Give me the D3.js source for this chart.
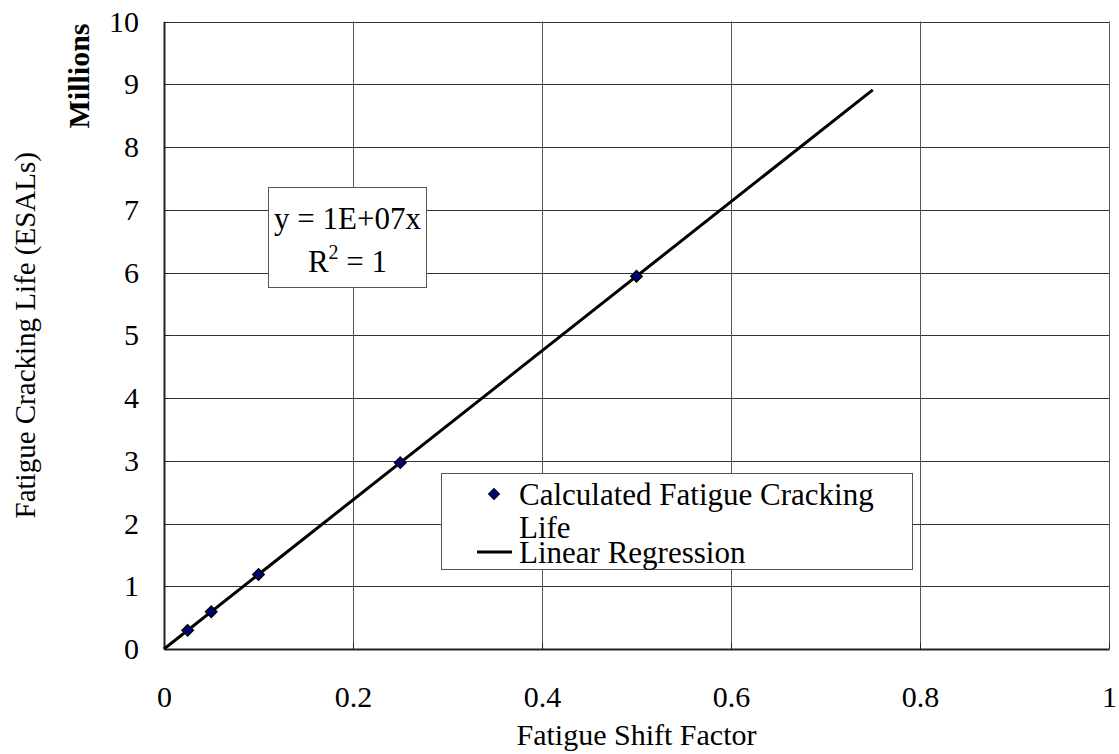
<!DOCTYPE html>
<html>
<head>
<meta charset="utf-8">
<script src="https://cdn.jsdelivr.net/npm/d3@7"></script>
<style>
  body { margin: 0; background: #fff; }
  svg text { font-family: "Liberation Serif", "DejaVu Serif", serif !important; fill: #000; }
</style>
</head>
<body>
<svg id="chart" width="1119" height="754"></svg>
<script>
// Fatigue shift factor vs. calculated fatigue cracking life (millions of ESALs)
const shiftFactors = [0.025, 0.05, 0.1, 0.25, 0.5];
const crackingLife = [0.297, 0.594, 1.188, 2.97, 5.94];

// Linear regression trendline endpoints
const trendX = [0, 0.75];
const trendY = [0, 8.91];

const xTicks = [0, 0.2, 0.4, 0.6, 0.8, 1];
const yTicks = [0, 1, 2, 3, 4, 5, 6, 7, 8, 9, 10];

const equationLines = ["y = 1E+07x", "R"];
const legendLabels = ["Calculated Fatigue Cracking", "Life", "Linear Regression"];

const svg = d3.select("#chart");
const margin = { left: 164, right: 1109, top: 21.5, bottom: 649 };

const x = d3.scaleLinear().domain([0, 1]).range([margin.left, margin.right]);
const y = d3.scaleLinear().domain([0, 10]).range([margin.bottom, margin.top]);

// Grid
const grid = svg.append("g");
grid.selectAll(".hg").data(yTicks).join("line")
  .attr("x1", margin.left).attr("x2", margin.right)
  .attr("y1", d => Math.round(y(d)) + 0.5).attr("y2", d => Math.round(y(d)) + 0.5)
  .attr("stroke", "#333").attr("stroke-width", 1);
grid.selectAll(".vg").data(xTicks).join("line")
  .attr("x1", d => Math.round(x(d)) + 0.5).attr("x2", d => Math.round(x(d)) + 0.5)
  .attr("y1", margin.top).attr("y2", margin.bottom)
  .attr("stroke", "#555").attr("stroke-width", 1);

// Axes
const xAxis = d3.axisBottom(x).tickValues(xTicks).tickSize(0).tickPadding(37)
  .tickFormat(d => d3.format("~g")(d));
const gx = svg.append("g").attr("transform", `translate(0,${margin.bottom})`).call(xAxis);
gx.select(".domain").attr("stroke", "#222").attr("stroke-width", 2);
gx.selectAll("text").attr("font-size", 30);

const yAxis = d3.axisLeft(y).tickValues(yTicks).tickSize(0).tickPadding(25);
const gy = svg.append("g").attr("transform", `translate(${margin.left},0)`).call(yAxis);
gy.select(".domain").attr("stroke", "#222").attr("stroke-width", 2);
gy.selectAll("text").attr("font-size", 30);

// Small inward tick marks
svg.append("g").selectAll("line").data(yTicks).join("line")
  .attr("x1", margin.left).attr("x2", margin.left + 6)
  .attr("y1", d => Math.round(y(d)) + 0.5).attr("y2", d => Math.round(y(d)) + 0.5)
  .attr("stroke", "#222");
svg.append("g").selectAll("line").data(xTicks).join("line")
  .attr("x1", d => Math.round(x(d)) + 0.5).attr("x2", d => Math.round(x(d)) + 0.5)
  .attr("y1", margin.bottom).attr("y2", margin.bottom - 6)
  .attr("stroke", "#222");

// Axis titles
svg.append("text").attr("x", x(0.5)).attr("y", 745)
  .attr("text-anchor", "middle").attr("font-size", 30).text("Fatigue Shift Factor");
svg.append("text")
  .attr("transform", `translate(35,${(margin.top + margin.bottom) / 2}) rotate(-90)`)
  .attr("text-anchor", "middle").attr("font-size", 29)
  .text("Fatigue Cracking Life (ESALs)");
svg.append("text")
  .attr("transform", `translate(89,76) rotate(-90)`)
  .attr("text-anchor", "middle").attr("font-size", 30).attr("font-weight", "bold")
  .text("Millions");

// Trendline
const line = d3.line().x(d => x(d[0])).y(d => y(d[1]));
svg.append("path").datum(d3.zip(trendX, trendY))
  .attr("d", line).attr("fill", "none").attr("stroke", "#000").attr("stroke-width", 3);

// Data markers: squares turned 45 degrees
const marker = d3.symbol().type(d3.symbolSquare).size(64);
svg.append("g").selectAll("path").data(d3.zip(shiftFactors, crackingLife)).join("path")
  .attr("transform", d => `translate(${x(d[0])},${y(d[1])}) rotate(45)`)
  .attr("d", marker).attr("fill", "#000080").attr("stroke", "#000").attr("stroke-width", 1.5);

// Equation box
const eq = svg.append("g");
eq.append("rect").attr("x", 268.5).attr("y", 187.5).attr("width", 158).attr("height", 100)
  .attr("fill", "#fff").attr("stroke", "#555");
eq.append("text").attr("x", 347.5).attr("y", 229).attr("text-anchor", "middle")
  .attr("font-size", 31).text(equationLines[0]);
const r2 = eq.append("text").attr("x", 347.5).attr("y", 272).attr("text-anchor", "middle")
  .attr("font-size", 31);
r2.append("tspan").text(equationLines[1]);
r2.append("tspan").attr("dy", -13).attr("font-size", 20).text("2");
r2.append("tspan").attr("dy", 13).text(" = 1");

// Legend
const lg = svg.append("g");
lg.append("rect").attr("x", 441.5).attr("y", 473.5).attr("width", 471).attr("height", 96)
  .attr("fill", "#fff").attr("stroke", "#555");
lg.append("path").attr("transform", "translate(494,494) rotate(45)")
  .attr("d", d3.symbol().type(d3.symbolSquare).size(60))
  .attr("fill", "#000080").attr("stroke", "#000").attr("stroke-width", 1);
lg.append("text").attr("x", 519).attr("y", 505).attr("font-size", 31).text(legendLabels[0]);
lg.append("text").attr("x", 519).attr("y", 538).attr("font-size", 31).text(legendLabels[1]);
lg.append("line").attr("x1", 477).attr("x2", 512).attr("y1", 552).attr("y2", 552)
  .attr("stroke", "#000").attr("stroke-width", 3);
lg.append("text").attr("x", 519).attr("y", 563).attr("font-size", 31).text(legendLabels[2]);
</script>
</body>
</html>
